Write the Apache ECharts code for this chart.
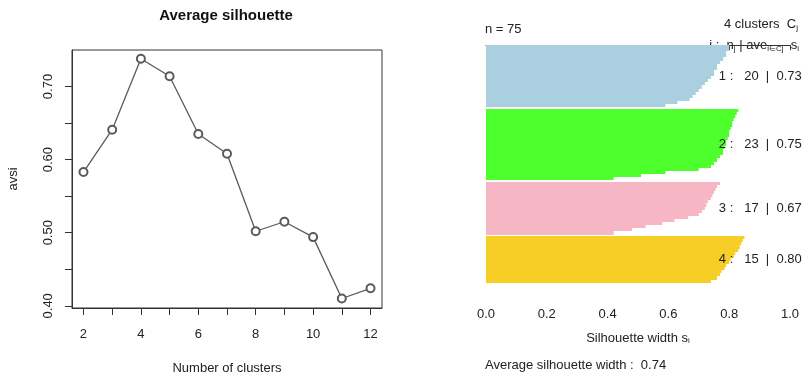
<!DOCTYPE html>
<html>
<head>
<meta charset="utf-8">
<script src="https://cdn.jsdelivr.net/npm/echarts@6/dist/echarts.min.js"></script>
<style>html,body{margin:0;padding:0;background:#fff}#c{width:807px;height:377px}</style>
</head>
<body>
<div id="c"></div>
<script>
// ---- Left panel data: average silhouette by number of clusters ----
const kValues = [2, 3, 4, 5, 6, 7, 8, 9, 10, 11, 12];
const avsi = [0.583, 0.641, 0.738, 0.714, 0.635, 0.608, 0.502, 0.515, 0.494, 0.410, 0.424];
const xTickValues = [2, 3, 4, 5, 6, 7, 8, 9, 10, 11, 12];
const xLabelValues = [2, 4, 6, 8, 10, 12];
const yTickValues = [0.40, 0.45, 0.50, 0.55, 0.60, 0.65, 0.70];
const yLabelValues = [0.40, 0.50, 0.60, 0.70];

// ---- Right panel data: silhouette widths per cluster (sorted, top to bottom) ----
const cluster1 = [0.80, 0.80, 0.79, 0.79, 0.78, 0.77, 0.76, 0.76, 0.75, 0.75, 0.74, 0.73, 0.72, 0.71, 0.70, 0.69, 0.68, 0.67, 0.63, 0.59];
const cluster2 = [0.83, 0.825, 0.82, 0.815, 0.81, 0.81, 0.805, 0.80, 0.80, 0.795, 0.79, 0.79, 0.785, 0.78, 0.78, 0.77, 0.76, 0.75, 0.74, 0.70, 0.59, 0.51, 0.42];
const cluster3 = [0.77, 0.76, 0.755, 0.75, 0.745, 0.74, 0.73, 0.725, 0.72, 0.71, 0.70, 0.665, 0.62, 0.58, 0.525, 0.48, 0.42];
const cluster4 = [0.85, 0.845, 0.84, 0.835, 0.83, 0.82, 0.815, 0.805, 0.80, 0.79, 0.785, 0.775, 0.77, 0.76, 0.74];
const clusterAvgLabels = ['0.73', '0.75', '0.67', '0.80'];
const overallAvgLabel = '0.74';
const silTickValues = [0, 0.2, 0.4, 0.6, 0.8, 1.0];

const clusters = [cluster1, cluster2, cluster3, cluster4];
const clusterColors = ['#AAD0DF', '#4EFF2E', '#F7B6C4', '#F6CE26'];
const FONT = '"Liberation Sans", Arial, sans-serif';
const TXT = '#222';

// build bar rows with R-like half-bar gaps between clusters
const barRows = [];
const clusterMid = [];
let pos = 0;
clusters.forEach((arr, ci) => {
  if (ci > 0) pos += 0.5;
  const start = pos;
  arr.forEach(v => { barRows.push([v, pos, ci]); pos += 1; });
  clusterMid.push((start + pos) / 2);
});
const totalUnits = pos;
const pad = totalUnits * 0.04;
const nTotal = clusters.reduce((s, a) => s + a.length, 0);

const chart = echarts.init(document.getElementById('c'), null, {renderer: 'canvas'});

const axisLineStyle = {color: '#333', width: 1};
const option = {
  animation: false,
  backgroundColor: '#fff',
  textStyle: {fontFamily: FONT},
  grid: [
    {left: 72, top: 50, right: 425, bottom: 69, show: true, borderColor: '#333', borderWidth: 1, backgroundColor: 'transparent', containLabel: false, outerBoundsMode: 'none'},
    {left: 486, right: 17, top: 35.5, bottom: 84.8, containLabel: false, outerBoundsMode: 'none'}
  ],
  xAxis: [
    {
      gridIndex: 0, type: 'value', min: 1.6, max: 12.4,
      axisLine: {show: true, lineStyle: axisLineStyle},
      axisTick: {show: true, inside: false, length: 7, lineStyle: axisLineStyle, customValues: xTickValues},
      axisLabel: {show: true, customValues: xLabelValues, margin: 20, fontSize: 13, color: TXT, fontFamily: FONT},
      splitLine: {show: false},
      name: 'Number of clusters', nameLocation: 'middle', nameGap: 54,
      nameTextStyle: {fontSize: 13, color: TXT, fontFamily: FONT}
    },
    {
      gridIndex: 1, type: 'value', min: 0, max: 1,
      axisLine: {show: true, lineStyle: axisLineStyle},
      axisTick: {show: true, inside: false, length: 5, lineStyle: axisLineStyle, customValues: silTickValues},
      axisLabel: {show: true, customValues: silTickValues, margin: 16, fontSize: 13, color: TXT, fontFamily: FONT,
        formatter: v => v.toFixed(1)},
      splitLine: {show: false},
      name: '{a|Silhouette width s}{s|i}', nameLocation: 'middle', nameGap: 39,
      nameTextStyle: {fontSize: 13, color: TXT, fontFamily: FONT,
        rich: {a: {fontSize: 13, color: TXT, fontFamily: FONT}, s: {fontSize: 8, color: TXT, fontFamily: FONT, verticalAlign: 'bottom', padding: [6, 0, 0, 0]}}}
    }
  ],
  yAxis: [
    {
      gridIndex: 0, type: 'value', min: 0.397, max: 0.750,
      axisLine: {show: true, lineStyle: axisLineStyle},
      axisTick: {show: true, inside: false, length: 7, lineStyle: axisLineStyle, customValues: yTickValues},
      axisLabel: {show: true, customValues: yLabelValues, rotate: 90, margin: 17, fontSize: 13, color: TXT, fontFamily: FONT,
        formatter: v => v.toFixed(2)},
      splitLine: {show: false},
      name: 'avsi', nameLocation: 'middle', nameRotate: 90, nameGap: 52,
      nameTextStyle: {fontSize: 13, color: TXT, fontFamily: FONT}
    },
    {
      gridIndex: 1, type: 'value', inverse: true, min: -pad, max: totalUnits + pad, show: false
    }
  ],
  series: [
    {
      type: 'line', xAxisIndex: 0, yAxisIndex: 0,
      data: kValues.map((k, i) => [k, avsi[i]]),
      lineStyle: {color: '#5a5a5a', width: 1.3},
      symbol: 'emptyCircle', symbolSize: 8,
      itemStyle: {color: '#5a5a5a', borderColor: '#5a5a5a', borderWidth: 1},
      z: 3
    },
    {
      type: 'custom', xAxisIndex: 1, yAxisIndex: 1,
      data: barRows,
      encode: {x: 0, y: 1},
      renderItem: function (params, api) {
        const v = api.value(0), p = api.value(1), ci = api.value(2);
        const a = api.coord([0, p]);
        const b = api.coord([v, p + 1]);
        const y0 = Math.round(a[1]), y1 = Math.round(b[1]);
        return {
          type: 'rect',
          shape: {x: a[0], y: y0, width: b[0] - a[0], height: y1 - y0},
          style: {fill: clusterColors[ci], stroke: null}
        };
      }
    },
    {
      type: 'custom', xAxisIndex: 1, yAxisIndex: 1,
      data: clusters.map((arr, ci) => [1, clusterMid[ci], ci]),
      encode: {x: 0, y: 1},
      z: 5,
      renderItem: function (params, api) {
        const ci = api.value(2);
        const c = api.coord([0.766, api.value(1)]);
        return {
          type: 'text',
          x: c[0], y: c[1],
          style: {
            text: (ci + 1) + ' :   ' + clusters[ci].length + '  |  ' + clusterAvgLabels[ci],
            font: '13px ' + FONT, fill: TXT, textAlign: 'left', textVerticalAlign: 'middle'
          }
        };
      }
    }
  ],
  graphic: [
    {type: 'text', x: 226, y: 16, style: {text: 'Average silhouette', font: 'bold 15px ' + FONT, fill: '#111', textAlign: 'center', textVerticalAlign: 'middle'}},
    {type: 'text', x: 485, y: 29, style: {text: 'n = ' + nTotal, font: '13px ' + FONT, fill: TXT, textAlign: 'left', textVerticalAlign: 'middle'}},
    {type: 'text', x: 798, y: 24, style: {
      text: '{a|' + clusters.length + ' clusters  C}{s|j}',
      textAlign: 'right', textVerticalAlign: 'middle', fill: TXT,
      rich: {a: {font: '13px ' + FONT, fill: TXT}, s: {font: '8px ' + FONT, fill: TXT, verticalAlign: 'bottom', padding: [7, 0, 0, 0]}}
    }},
    {type: 'text', x: 799, y: 45, style: {
      text: '{a|j :  n}{s|j}{a| | ave}{s|i\u2208Cj}{a|  s}{s|i}',
      textAlign: 'right', textVerticalAlign: 'middle', fill: TXT,
      rich: {a: {font: '13px ' + FONT, fill: TXT}, s: {font: '8px ' + FONT, fill: TXT, verticalAlign: 'bottom', padding: [7, 0, 0, 0]}}
    }},
    {type: 'text', x: 485, y: 365, style: {text: 'Average silhouette width :  ' + overallAvgLabel, font: '13px ' + FONT, fill: TXT, textAlign: 'left', textVerticalAlign: 'middle'}}
  ]
};
chart.setOption(option);
</script>
</body>
</html>
